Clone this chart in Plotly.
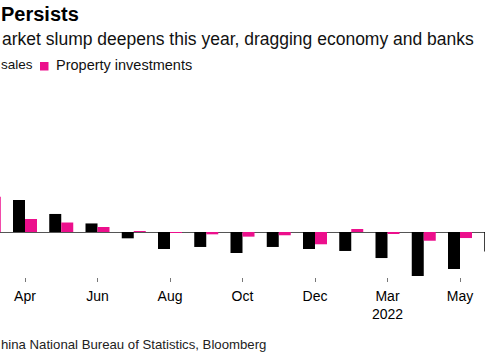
import plotly.graph_objects as go

# ---- data (YoY % change, monthly; Jan-Feb combined by NBS) ----
months = ["Mar 2021", "Apr 2021", "May 2021", "Jun 2021", "Jul 2021", "Aug 2021",
          "Sep 2021", "Oct 2021", "Nov 2021", "Dec 2021", "Jan-Feb 2022",
          "Mar 2022", "Apr 2022", "May 2022", "Jun 2022"]
property_sales = [60, 34.4, 19.4, 9.2, -6.8, -18.3, -16.1, -22.6, -16.1, -18.3,
                  -20.4, -28.0, -47.3, -39.8, -21.0]
property_investments = [38, 14.0, 10.2, 5.4, 1.0, -0.3, -2.5, -5.0, -3.5, -13.2,
                        3.2, -1.4, -9.4, -6.5, -9.0]
tick_vals = ["Apr 2021", "Jun 2021", "Aug 2021", "Oct 2021", "Dec 2021",
             "Mar 2022", "May 2022"]
tick_text = ["Apr", "Jun", "Aug", "Oct", "Dec", "Mar<br>2022", "May"]

# visible (cropped) texts as they appear in the reference
title_text = "Persists"
subtitle_text = "arket slump deepens this year, dragging economy and banks"
legend_sales_text = "sales"
legend_invest_text = "Property investments"
source_text = "hina National Bureau of Statistics, Bloomberg"

BLACK = "#000000"
PINK = "#ec0f8c"
FONT = "Liberation Sans, Arial, sans-serif"

W, H = 485, 352
M_T, M_B = 90, 75
PLOT_H = H - M_T - M_B
PLOT_BOTTOM = H - M_B


def px(x):
    return x / W


def py(y):
    return (PLOT_BOTTOM - y) / PLOT_H


fig = go.Figure()
fig.add_trace(go.Bar(x=months, y=property_sales, name="Property sales",
                     marker=dict(color=BLACK, line=dict(width=0)), showlegend=False))
fig.add_trace(go.Bar(x=months, y=property_investments, name="Property investments",
                     marker=dict(color=PINK, line=dict(width=0)), showlegend=False))

# x range in category units (category spacing ~36.25 px, Apr 2021 at x=25 px)
spacing = 36.25
r0 = 1 - 25 / spacing
r1 = r0 + W / spacing

# y range: zero line at y=232 px, ~0.93 px per percentage point
scale = 0.93
y_lo = -(PLOT_BOTTOM - 232) / scale
y_hi = y_lo + PLOT_H / scale

annotations = [
    dict(text="<b>" + title_text + "</b>", x=px(81), y=py(14),
         xanchor="right", yanchor="middle", font=dict(size=20, color="#000", family=FONT)),
    dict(text=subtitle_text, x=px(476), y=py(39), xanchor="right", yanchor="middle",
         font=dict(size=17.5, color="#111", family=FONT)),
    dict(text=legend_sales_text, x=px(-1), y=py(65), xanchor="left", yanchor="middle",
         font=dict(size=13.5, color="#111", family=FONT)),
    dict(text=legend_invest_text, x=px(54), y=py(65), xanchor="left", yanchor="middle",
         font=dict(size=14.5, color="#111", family=FONT)),
    dict(text=source_text, x=px(-1), y=py(344), xanchor="left", yanchor="middle",
         font=dict(size=13.2, color="#222", family=FONT)),
]
for a in annotations:
    a.update(xref="paper", yref="paper", showarrow=False)

shapes = [
    dict(type="rect", xref="paper", yref="paper", x0=px(40), x1=px(48.5),
         y0=py(70.5), y1=py(62), fillcolor=PINK, line=dict(width=0)),
]

fig.update_layout(
    width=W, height=H,
    margin=dict(l=0, r=0, t=M_T, b=M_B, pad=0),
    paper_bgcolor="white", plot_bgcolor="white",
    barmode="group", bargap=0.338, bargroupgap=0,
    font=dict(family=FONT, color="#000"),
    annotations=annotations, shapes=shapes,
    showlegend=False,
    xaxis=dict(type="category", range=[r0, r1], tickmode="array",
               tickvals=tick_vals, ticktext=tick_text, ticks="outside",
               ticklen=4, tickwidth=1, tickcolor="#777", showline=False,
               showgrid=False, zeroline=False, tickfont=dict(size=14, color="#000"),
               ticklabelstandoff=2),
    yaxis=dict(range=[y_lo, y_hi], showticklabels=False, showgrid=False,
               zeroline=True, zerolinecolor="#555", zerolinewidth=1, showline=False,
               ticks=""),
)

fig.write_html("out.html")
